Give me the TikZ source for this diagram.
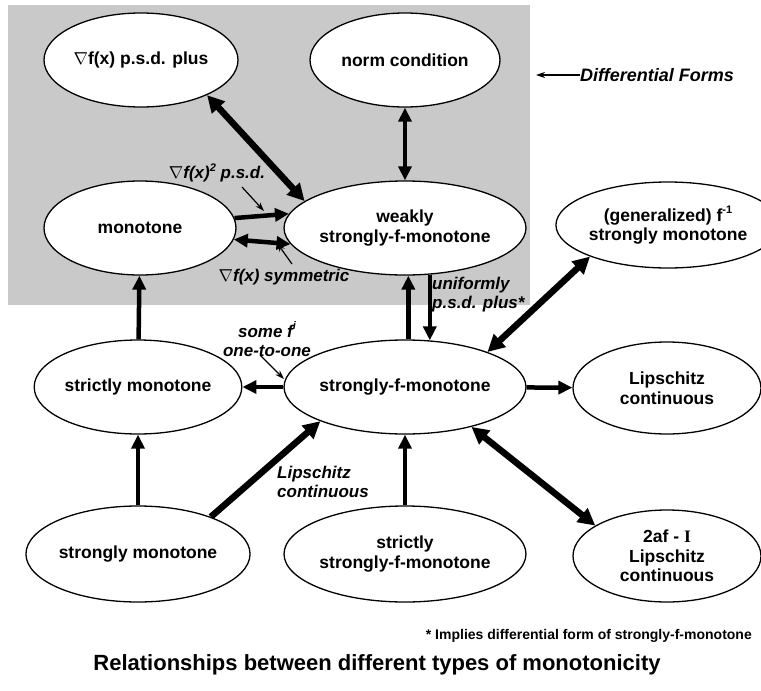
\documentclass[tikz,border=0pt]{standalone}
\usepackage{fontspec}
\setmainfont{Liberation Sans}
\newfontfamily\serifI{Liberation Serif}
\usetikzlibrary{arrows.meta,shapes.geometric}
\newcommand\sups[1]{\raisebox{0.45em}{\fontsize{11}{11}\selectfont #1}}
\begin{document}
\begin{tikzpicture}[x=1pt,y=-1pt,
  ell/.style={ellipse,draw,line width=1.3pt,fill=white,inner sep=0pt,align=center,
    font=\fontsize{17.5}{19.5}\selectfont\bfseries},
  lbl/.style={inner sep=0pt,font=\fontsize{17}{19}\selectfont\bfseries\itshape},
  tipA/.tip={Triangle[length=14pt,width=13pt]},
  tipB/.tip={Triangle[length=17pt,width=17pt]},
  arr/.style={line width=4.5pt,-tipA},
  darr/.style={line width=4.5pt,tipA-tipA},
  bigarr/.style={line width=6.5pt,-tipB},
  bigdarr/.style={line width=6.5pt,tipB-tipB},
  note/.style={line width=1.2pt,-{Stealth[length=9pt,width=6pt]}},
  shadebox/.style={fill=black!21}
]
\useasboundingbox (0,0) rectangle (761,691);
\fill[shadebox] (8,5) rectangle (530,305);

% nodes
\node[ell,minimum width=194pt,minimum height=94pt] (psdplus) at (141,60) {$\nabla$f(x) p.s.d. plus};
\node[ell,minimum width=190pt,minimum height=94pt] (norm) at (405,60) {norm condition};
\node[ell,minimum width=192pt,minimum height=94pt] (monotone) at (140,228) {monotone};
\node[ell,minimum width=184pt,minimum height=94pt] (weakly) at (405,228) {weakly\\strongly-f-monotone};
\node[ell,minimum width=182pt,minimum height=86pt] (gen) at (668,225) {(generalized) f\sups{-1}\\strongly monotone};
\node[ell,minimum width=204pt,minimum height=94pt] (strictly) at (138,387) {strictly monotone};
\node[ell,minimum width=190pt,minimum height=94pt] (strongf) at (405,387) {strongly-f-monotone};
\node[ell,minimum width=188pt,minimum height=92pt] (lip) at (667,388) {Lipschitz\\continuous};
\node[ell,minimum width=194pt,minimum height=96pt] (strongly) at (138,554) {strongly monotone};
\node[ell,minimum width=190pt,minimum height=96pt] (sstrong) at (405,554) {strictly\\strongly-f-monotone};
\node[ell,minimum width=188pt,minimum height=92pt] (twoaf) at (667,556) {2af - {\serifI I}\\Lipschitz\\continuous};

% main connectors
\draw[bigdarr] (psdplus.-28) -- (weakly.165);
\draw[darr] (norm) -- (weakly);
\draw[arr] (monotone.6.7) -- (weakly.173);
\draw[darr] (monotone.-7.4) -- (weakly.-172.3);
\draw[arr] (strongf.86) -- (weakly.-86);
\draw[arr] (weakly.-62) -- (strongf.62);
\draw[arr] (strongf) -- (strictly);
\draw[bigdarr] (strongf.23) -- (gen.202);
\draw[arr] (strongf) -- (lip);
\draw[bigdarr] (strongf.-31) -- (twoaf.157);
\draw[arr] (strictly) -- (monotone);
\draw[arr] (strongly) -- (strictly);
\draw[bigarr] (strongly.27.6) -- (strongf.202);
\draw[arr] (sstrong) -- (strongf);

% labels
\node[lbl] (psdl) at (217,173) {$\nabla$f(x)\sups{2} p.s.d.};
\node[lbl] (syml) at (284,277) {$\nabla$f(x) symmetric};
\node[lbl,anchor=west,align=left] (unil) at (432,295) {uniformly\\p.s.d. plus*};
\node[lbl,align=center] (somel) at (267,339) {some f\sups{i}\\one-to-one};
\node[lbl,anchor=west,align=left] (lipl) at (277,482) {Lipschitz\\continuous};
\node[lbl,anchor=west,font=\fontsize{18}{20}\selectfont\bfseries\itshape] (diffl) at (580,75) {Differential Forms};

% annotation arrows
\coordinate (psdtip) at (264,211);
\coordinate (psdtail) at (242,187);
\coordinate (symtip) at (277,243);
\coordinate (symtail) at (292,264);
\coordinate (sometip) at (284,379);
\coordinate (sometail) at (260,355);
\coordinate (difftip) at (536,75);
\draw[note] (psdtail) -- (psdtip);
\draw[note] (symtail) -- (symtip);
\draw[note] (sometail) -- (sometip);
\draw[note] (diffl.west) -- (difftip);

% footnote and title
\node[inner sep=0pt,anchor=east,font=\fontsize{14}{16}\selectfont\bfseries] (foot) at (752,636) {* Implies differential form of strongly-f-monotone};
\node[inner sep=0pt,font=\fontsize{22}{24}\selectfont\bfseries] (title) at (377,665) {Relationships between different types of monotonicity};
\end{tikzpicture}
\end{document}
